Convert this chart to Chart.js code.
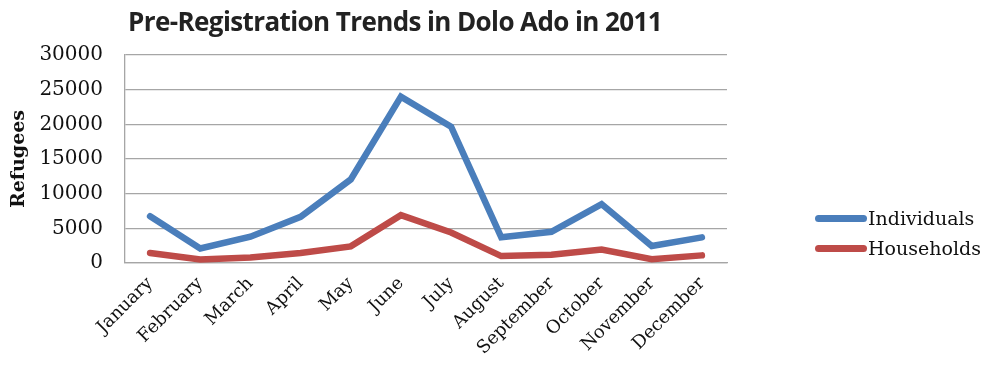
<!DOCTYPE html>
<html>
<head>
<meta charset="utf-8">
<script src="https://cdn.jsdelivr.net/npm/chart.js@4/dist/chart.umd.min.js"></script>
<style>
  html, body { margin: 0; padding: 0; background: #fff; }
  #wrap { position: relative; width: 989px; height: 367px; }
  #title { position: absolute; left: 0; width: 790px; top: 3px; text-align: center;
           font: bold 26px "Open Sans", sans-serif; color: #222; letter-spacing: -0.6px; }
  .leg { position: absolute; left: 815px; font: 19px "DejaVu Serif", serif; color: #111; }
  .leg span { display: inline-block; width: 52px; height: 7px; border-radius: 3.5px;
              vertical-align: middle; margin-right: 1px; position: relative; top: -2px; }
</style>
</head>
<body>
<div id="wrap">
  <canvas id="chart" width="989" height="367"></canvas>
  <div id="title">Pre-Registration Trends in Dolo Ado in 2011</div>
  <div class="leg" style="top:207px"><span style="background:#4a7ebb"></span>Individuals</div>
  <div class="leg" style="top:237px"><span style="background:#be4b48"></span>Households</div>
</div>
<script>
const months = ['January', 'February', 'March', 'April', 'May', 'June', 'July',
                'August', 'September', 'October', 'November', 'December'];
const individuals = [6750, 2100, 3800, 6650, 12050, 24000, 19650, 3700, 4500, 8500, 2450, 3700];
const households = [1450, 500, 800, 1450, 2400, 6900, 4400, 1000, 1200, 1950, 550, 1100];
const yTicks = [0, 5000, 10000, 15000, 20000, 25000, 30000];

const serif = '"DejaVu Serif", serif';

new Chart(document.getElementById('chart'), {
  type: 'line',
  data: {
    labels: months,
    datasets: [
      { label: 'Individuals', data: individuals, borderColor: '#4a7ebb', borderWidth: 6.5,
        pointRadius: 0, tension: 0, borderCapStyle: 'round', borderJoinStyle: 'miter' },
      { label: 'Households', data: households, borderColor: '#be4b48', borderWidth: 6.5,
        pointRadius: 0, tension: 0, borderCapStyle: 'round', borderJoinStyle: 'miter' }
    ]
  },
  options: {
    responsive: false,
    animation: false,
    layout: { padding: { top: 55, left: 8, right: 262, bottom: 0 } },
    plugins: { legend: { display: false }, title: { display: false }, tooltip: { enabled: false } },
    scales: {
      x: {
        offset: true,
        grid: { display: false },
        border: { display: true, color: '#a6a6a6', width: 1.3 },
        ticks: { minRotation: 45, maxRotation: 45, padding: 2, color: '#111',
                 font: { family: serif, size: 18 } },
        afterFit: (s) => { s.height = 367 - 263; }
      },
      y: {
        min: 0, max: 30000,
        afterBuildTicks: (s) => { s.ticks = yTicks.map(v => ({ value: v })); },
        grid: { color: '#a6a6a6', lineWidth: 1.3, drawTicks: false },
        border: { display: true, color: '#a6a6a6', width: 1.3 },
        ticks: { padding: 22, color: '#111', font: { family: serif, size: 20 },
                 callback: (v) => String(v) },
        title: { display: true, text: 'Refugees', color: '#111', padding: 0,
                 font: { family: serif, size: 19, weight: 'bold' } },
        afterFit: (s) => { s.width = 125 - 8; }
      }
    }
  }
});
</script>
</body>
</html>
